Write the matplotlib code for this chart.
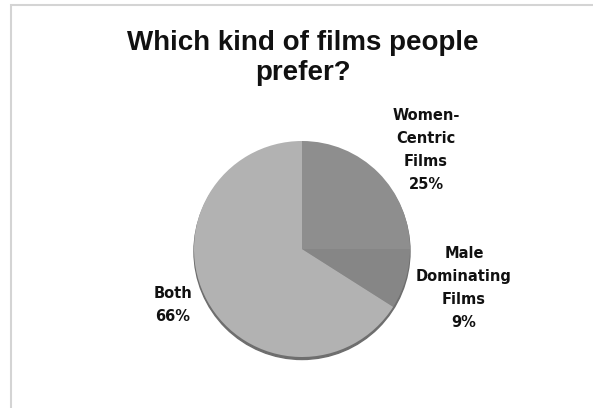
import matplotlib.pyplot as plt
from matplotlib.patches import Rectangle, Ellipse

# survey answers
categories = ['Women-\nCentric\nFilms', 'Male\nDominating\nFilms', 'Both']
shares = [25, 9, 66]
colors = ['#8e8e8e', '#868686', '#b2b2b2']

W, H = 593, 408
fig = plt.figure(figsize=(W / 100, H / 100), dpi=100)
ax = fig.add_axes([0, 0, 1, 1])

cx, cy, r = 302, 159, 108

# thin shadow under the pie
ax.add_patch(Ellipse((cx, cy - 2.5), 2 * r, 2 * r, color='#6e6e6e', zorder=0))

ax.pie(shares, colors=colors, startangle=90, counterclock=False,
       center=(cx, cy), radius=r, frame=True,
       wedgeprops=dict(linewidth=0))

ax.set_xlim(0, W)
ax.set_ylim(0, H)
ax.set_aspect('equal')
ax.axis('off')

# outer chart border
ax.add_patch(Rectangle((11, -10), W, H - 5 + 10, fill=False,
                       edgecolor='#d4d4d4', linewidth=1.5))

ax.text(303, 350, 'Which kind of films people\nprefer?', ha='center', va='center',
        fontsize=20, fontweight='bold', family='Liberation Sans',
        linespacing=1.25, color='#111111')

label_pos = [(426, 258), (464, 120), (173, 103)]
for name, pct, (x, y) in zip(categories, shares, label_pos):
    ax.text(x, y, f'{name}\n{pct}%', ha='center', va='center',
            fontsize=10.5, fontweight='bold', family='Liberation Sans Narrow',
            linespacing=1.65, color='#111111')

fig.savefig('out.png', dpi=100)
